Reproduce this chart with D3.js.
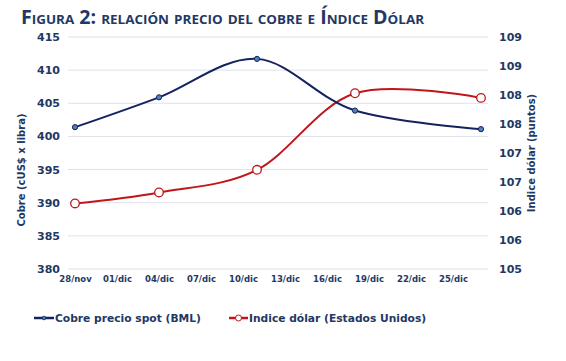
<!DOCTYPE html>
<html><head><meta charset="utf-8">
<script src="https://cdn.jsdelivr.net/npm/d3@7"></script>
<style>
body{margin:0;background:#fff;}
text{font-family:"DejaVu Sans",Verdana,sans-serif;font-weight:bold;fill:#1f3864;}
</style></head>
<body><svg id="c" width="566" height="361"></svg>
<script>
const dates = ["2010-11-28","2010-12-04","2010-12-11","2010-12-18","2010-12-27"];
const cobre = [401.4, 405.9, 411.7, 403.9, 401.1];
const dolar = [106.13, 106.32, 106.71, 108.03, 107.95];
const xTickLabels = ["28/nov","01/dic","04/dic","07/dic","10/dic","13/dic","16/dic","19/dic","22/dic","25/dic"];
const leftTicks = [380,385,390,395,400,405,410,415];
const rightTicks = [105,105.5,106,106.5,107,107.5,108,108.5,109];

const svg = d3.select("#c");
const parse = d3.utcParse("%Y-%m-%d");
const day = 864e5;
const start = parse("2010-11-28"), end = parse("2010-12-27");
const x = d3.scaleUtc().domain([new Date(+start - day/2), new Date(+end + day/2)]).range([68, 488]);
const yL = d3.scaleLinear().domain([380,415]).range([269,37]);
const yR = d3.scaleLinear().domain([105,109]).range([269,37]);

// title
svg.append("text").attr("x",21).attr("y",24)
  .style("font-family","'Open Sans',sans-serif").style("font-size","19px")
  .style("font-variant","small-caps").style("fill","#1f3864")
  .attr("textLength",403).attr("lengthAdjust","spacingAndGlyphs")
  .text("Figura 2: relación precio del cobre e Índice Dólar");

// grid
svg.append("g").selectAll("line").data(leftTicks).join("line")
  .attr("x1",68).attr("x2",488).attr("y1",d=>yL(d)).attr("y2",d=>yL(d))
  .attr("stroke","#dde3ea").attr("stroke-width",1);

// left axis
const gl = svg.append("g").attr("transform","translate(60,0)")
  .call(d3.axisLeft(yL).tickValues(leftTicks).tickSize(0).tickPadding(0));
gl.select(".domain").remove();
gl.selectAll("text").style("font-size","11px").style("fill","#1f3864");

// right axis
const gr = svg.append("g").attr("transform","translate(499,0)")
  .call(d3.axisRight(yR).tickValues(rightTicks).tickSize(0).tickPadding(0).tickFormat(d=>Math.round(d)));
gr.select(".domain").remove();
gr.selectAll("text").style("font-size","11px").style("fill","#1f3864");

// x axis
const xt = xTickLabels.map((l,i)=>new Date(+start + i*3*day));
const gx = svg.append("g").attr("transform","translate(0,276)")
  .call(d3.axisBottom(x).tickValues(xt).tickSize(0).tickPadding(0).tickFormat((d,i)=>xTickLabels[i]));
gx.select(".domain").remove();
gx.selectAll("text").style("font-size","8.5px").style("fill","#1f3864");

// axis titles
svg.append("text").attr("transform","translate(25,170) rotate(-90)").attr("text-anchor","middle")
  .style("font-size","10px").text("Cobre (cUS$ x libra)");
svg.append("text").attr("transform","translate(535,153) rotate(-90)").attr("text-anchor","middle")
  .style("font-size","10px").text("Indice dólar (puntos)");

const pc = dates.map((d,i)=>({x:parse(d), y:cobre[i]}));
const pd = dates.map((d,i)=>({x:parse(d), y:dolar[i]}));
const blue = "#14235e", red = "#c0161b";

svg.append("path").datum(pd).attr("fill","none").attr("stroke",red).attr("stroke-width",2)
  .attr("d", d3.line().x(d=>x(d.x)).y(d=>yR(d.y)).curve(d3.curveCardinal.tension(0)));
svg.append("path").datum(pc).attr("fill","none").attr("stroke",blue).attr("stroke-width",2)
  .attr("d", d3.line().x(d=>x(d.x)).y(d=>yL(d.y)).curve(d3.curveCardinal.tension(0)));

svg.append("g").selectAll("circle").data(pd).join("circle")
  .attr("cx",d=>x(d.x)).attr("cy",d=>yR(d.y)).attr("r",4.3)
  .attr("fill","#fff").attr("stroke",red).attr("stroke-width",1.3);
svg.append("g").selectAll("circle").data(pc).join("circle")
  .attr("cx",d=>x(d.x)).attr("cy",d=>yL(d.y)).attr("r",2.6)
  .attr("fill","#4f81bd").attr("stroke",blue).attr("stroke-width",1);

// legend
const ly = 318;
svg.append("line").attr("x1",34).attr("x2",54).attr("y1",ly).attr("y2",ly).attr("stroke",blue).attr("stroke-width",2.5);
svg.append("circle").attr("cx",44).attr("cy",ly).attr("r",1.8).attr("fill","#4f81bd").attr("stroke",blue).attr("stroke-width",0.8);
svg.append("text").attr("x",55).attr("y",ly+4).style("font-size","10.7px").text("Cobre precio spot (BML)");
svg.append("line").attr("x1",229).attr("x2",248).attr("y1",ly).attr("y2",ly).attr("stroke",red).attr("stroke-width",2.5);
svg.append("circle").attr("cx",238.5).attr("cy",ly).attr("r",3).attr("fill","#fff").attr("stroke",red).attr("stroke-width",1);
svg.append("text").attr("x",249).attr("y",ly+4).style("font-size","10.7px").text("Indice dólar (Estados Unidos)");
</script></body></html>
